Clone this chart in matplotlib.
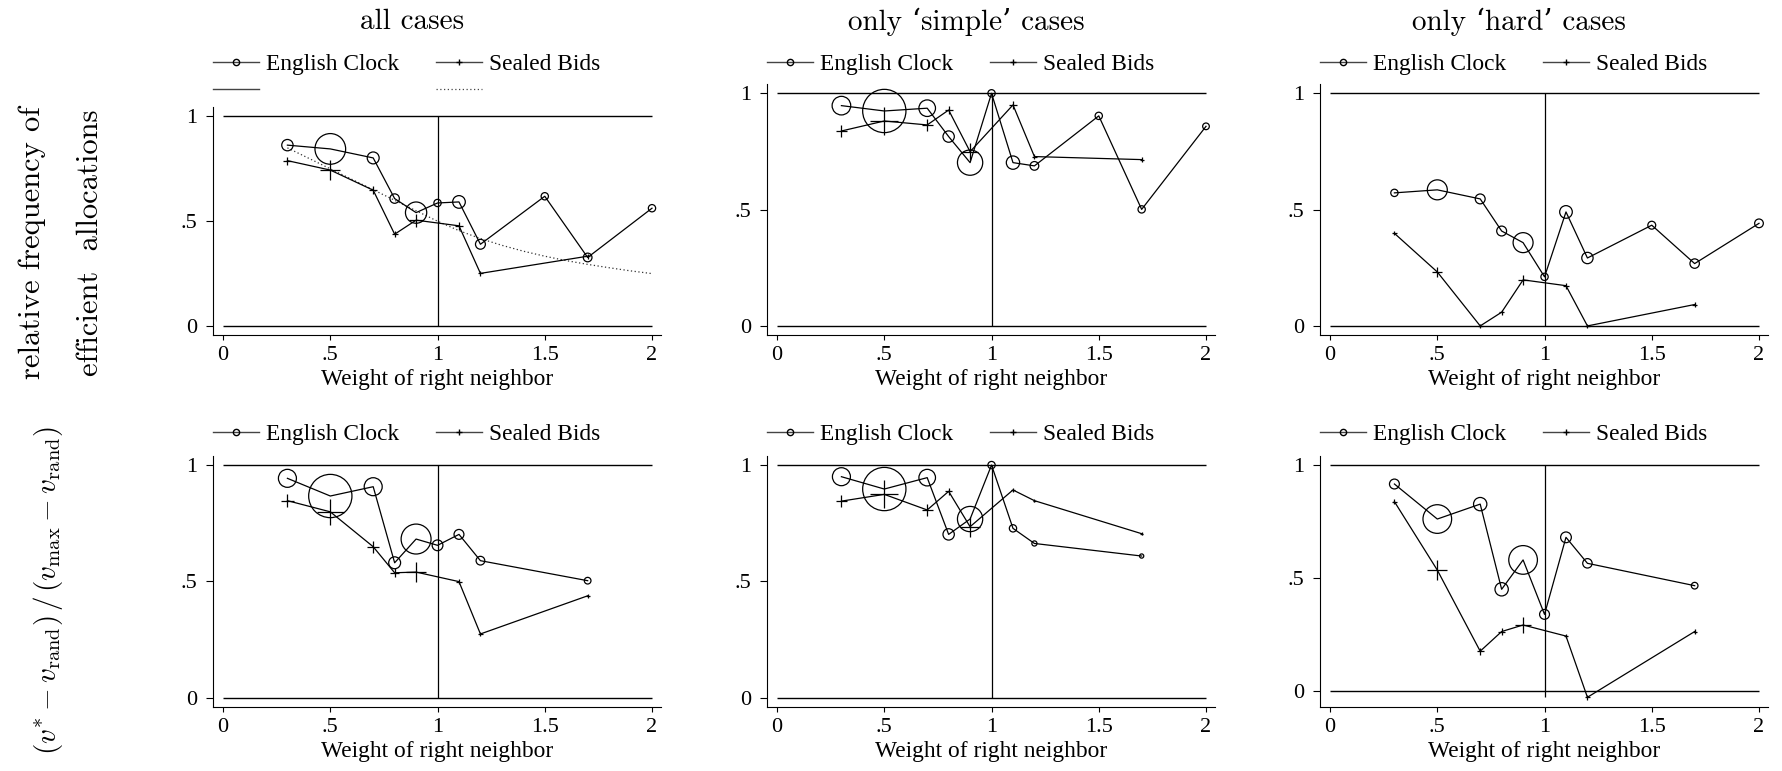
import matplotlib
matplotlib.use('Agg')
import matplotlib.pyplot as plt
from matplotlib.lines import Line2D

plt.rcParams['font.family'] = 'Liberation Serif'
plt.rcParams['mathtext.fontset'] = 'cm'

# weight of right neighbor
x_ec_top = [0.3, 0.5, 0.7, 0.8, 0.9, 1.0, 1.1, 1.2, 1.5, 1.7, 2.0]
x_ec_bot = [0.3, 0.5, 0.7, 0.8, 0.9, 1.0, 1.1, 1.2, 1.7]
x_sb = [0.3, 0.5, 0.7, 0.8, 0.9, 1.1, 1.2, 1.7]

# relative frequency of efficient allocations
freq_all_ec = [0.863, 0.845, 0.802, 0.608, 0.541, 0.587, 0.592, 0.390, 0.619, 0.327, 0.562]
freq_all_sb = [0.789, 0.744, 0.648, 0.438, 0.505, 0.478, 0.251, 0.333]
freq_simple_ec = [0.947, 0.924, 0.936, 0.814, 0.702, 1.0, 0.702, 0.688, 0.903, 0.501, 0.858]
freq_simple_sb = [0.838, 0.881, 0.864, 0.928, 0.749, 0.950, 0.728, 0.715]
freq_hard_ec = [0.572, 0.585, 0.546, 0.408, 0.358, 0.211, 0.490, 0.292, 0.433, 0.268, 0.441]
freq_hard_sb = [0.398, 0.232, 0.0, 0.059, 0.198, 0.173, 0.0, 0.092]

# (v* - v_rand) / (v_max - v_rand)
eff_all_ec = [0.943, 0.867, 0.907, 0.580, 0.682, 0.655, 0.702, 0.589, 0.503]
eff_all_sb = [0.847, 0.799, 0.649, 0.537, 0.540, 0.499, 0.274, 0.438]
eff_simple_ec = [0.950, 0.897, 0.946, 0.702, 0.768, 1.0, 0.728, 0.663, 0.609]
eff_simple_sb = [0.845, 0.874, 0.807, 0.887, 0.735, 0.893, 0.847, 0.705]
eff_hard_ec = [0.916, 0.761, 0.827, 0.450, 0.580, 0.339, 0.680, 0.565, 0.466]
eff_hard_sb = [0.838, 0.535, 0.176, 0.263, 0.292, 0.243, -0.028, 0.263]

# marker weights (number of observations, relative)
n_all_ec = [29, 212, 32, 20, 102, 12, 36, 22, 12, 17, 12]
n_all_sb = [14, 90, 14, 8, 40, 14, 6, 6]
n_simple_ec = [78, 422, 62, 29, 144, 12, 40, 17, 12, 12, 10]
n_simple_sb = [29, 176, 29, 14, 62, 14, 5, 4]
n_hard_ec = [12, 90, 22, 22, 90, 12, 36, 29, 14, 20, 17]
n_hard_sb = [4, 22, 5, 6, 22, 8, 5, 5]
n_all_ec_b = [73, 422, 73, 32, 202, 26, 22, 17, 10]
n_all_sb_b = [40, 160, 32, 20, 90, 6, 5, 4]
n_simple_ec_b = [73, 422, 62, 29, 144, 12, 12, 6, 4]
n_simple_sb_b = [29, 176, 29, 10, 90, 4, 2, 2]
n_hard_ec_b = [22, 185, 40, 40, 185, 22, 26, 20, 10]
n_hard_sb_b = [5, 90, 10, 10, 62, 5, 5, 4]

# benchmark curve (dotted) in the first panel
bench_x = [0.3, 0.5, 0.7, 0.8, 0.9, 1.0, 1.1, 1.2, 1.3, 1.4, 1.5, 1.6, 1.7, 1.8, 1.9, 2.0]
bench_y = [0.85, 0.75, 0.65, 0.60, 0.55, 0.50, 0.455, 0.417, 0.385, 0.357, 0.333, 0.312, 0.294,
           0.278, 0.263, 0.25]

titles = ['all cases', 'only \u2018simple\u2019 cases', 'only \u2018hard\u2019 cases']
xticks = [0, 0.5, 1, 1.5, 2]
xticklabels = ['0', '.5', '1', '1.5', '2']
yticks = [0, 0.5, 1]
yticklabels = ['0', '.5', '1']

W, H = 1783, 771
fig = plt.figure(figsize=(W / 100, H / 100), dpi=100)

panels = [
    # row, col, x_ec, ec, n_ec, sb, n_sb, top px, ylim
    (0, 0, x_ec_top, freq_all_ec, n_all_ec, freq_all_sb, n_all_sb, 107, (-0.043, 1.045)),
    (0, 1, x_ec_top, freq_simple_ec, n_simple_ec, freq_simple_sb, n_simple_sb, 84, (-0.039, 1.04)),
    (0, 2, x_ec_top, freq_hard_ec, n_hard_ec, freq_hard_sb, n_hard_sb, 84, (-0.039, 1.04)),
    (1, 0, x_ec_bot, eff_all_ec, n_all_ec_b, eff_all_sb, n_all_sb_b, 456, (-0.04, 1.039)),
    (1, 1, x_ec_bot, eff_simple_ec, n_simple_ec_b, eff_simple_sb, n_simple_sb_b, 456, (-0.04, 1.039)),
    (1, 2, x_ec_bot, eff_hard_ec, n_hard_ec_b, eff_hard_sb, n_hard_sb_b, 456, (-0.071, 1.04)),
]

col_left = [213, 767, 1320]
ax_w = 448
row_bottom = [335, 707]
legend_top = [54, 424]
lw = 0.9
k = 2.3  # scatter area per unit weight

for row, col, xe, ec, n_ec, sb, n_sb, top, ylim in panels:
    left = col_left[col]
    bottom = row_bottom[row]
    ax = fig.add_axes([left / W, 1 - bottom / H, ax_w / W, (bottom - top) / H])

    ax.hlines([0, 1], 0, 2, color='black', lw=1.0, zorder=1)
    ax.vlines(1, min(0, min(sb)), 1, color='black', lw=0.9, zorder=1)

    if row == 0 and col == 0:
        ax.plot(bench_x, bench_y, color='#333333', lw=0.9, linestyle=(0, (1, 2)), zorder=2)

    ax.plot(xe, ec, color='black', lw=lw, zorder=3)
    ax.scatter(xe, ec, s=[k * n for n in n_ec], facecolors='none', edgecolors='black',
               linewidths=lw, zorder=4)
    ax.plot(x_sb, sb, color='black', lw=lw, zorder=3)
    ax.scatter(x_sb, sb, s=[k * n for n in n_sb], marker='+', color='black',
               linewidths=lw, zorder=4)

    ax.set_xlim(-0.047, 2.042)
    ax.set_ylim(*ylim)
    ax.set_xticks(xticks)
    ax.set_xticklabels(xticklabels)
    ax.set_yticks(yticks)
    ax.set_yticklabels(yticklabels)
    ax.tick_params(axis='x', direction='out', length=3.6, width=0.8, labelsize=16, pad=4)
    ax.tick_params(axis='y', direction='out', length=5, width=0.8, labelsize=16, pad=6)
    ax.spines['top'].set_visible(False)
    ax.spines['right'].set_visible(False)
    for s in ['left', 'bottom']:
        ax.spines[s].set_linewidth(0.8)
    ax.set_xlabel('Weight of right neighbor', fontsize=16.8, labelpad=3)

    handles = [Line2D([], [], color='#444444', lw=1.0, marker='o', ms=4.5, mfc='none', mec='black'),
               Line2D([], [], color='#444444', lw=1.0, marker='+', ms=4, mec='black')]
    labels = ['English Clock', 'Sealed Bids']
    if row == 0 and col == 0:
        handles = [handles[0], Line2D([], [], color='#444444', lw=1.0),
                   handles[1], Line2D([], [], color='#444444', lw=0.9, linestyle=(0, (1, 2)))]
        labels = ['English Clock', '', 'Sealed Bids', '']
    fig.legend(handles, labels, loc='upper left', ncol=2,
               bbox_to_anchor=(left / W, 1 - legend_top[row] / H),
               frameon=False, fontsize=16.8, handlelength=1.97, handletextpad=0.3,
               columnspacing=1.6, borderpad=0, borderaxespad=0, labelspacing=0.25)

title_x = [412, 966, 1519]
for t, x in zip(titles, title_x):
    fig.text(x / W, 1 - 22 / H, t, family=['cmr10', 'DejaVu Serif'], fontsize=21,
             ha='center', va='center')

fig.text(32 / W, 1 - 243 / H, 'relative frequency of', family='cmr10', fontsize=22,
         rotation=90, ha='center', va='center')
fig.text(90 / W, 1 - 243 / H, 'efficient  allocations', family='cmr10', fontsize=22,
         rotation=90, ha='center', va='center')
fig.text(48 / W, 1 - 591 / H,
         r'$(v^{*} - v_{\mathrm{rand}})\,/\,(v_{\max} - v_{\mathrm{rand}})$',
         fontsize=21, rotation=90, ha='center', va='center')

fig.savefig('out.png', dpi=100)
